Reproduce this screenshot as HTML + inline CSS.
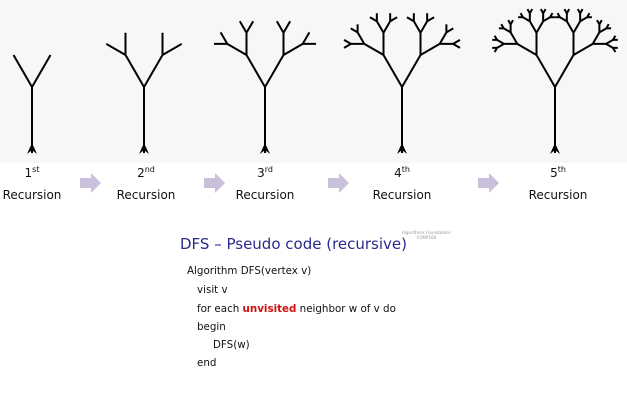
<!DOCTYPE html>
<html><head><meta charset="utf-8"><style>
body{margin:0;width:627px;height:401px;background:#fff;overflow:hidden;position:relative;font-family:"DejaVu Sans","Liberation Sans",sans-serif}
.t{position:absolute;white-space:nowrap}
.lab{position:absolute;width:80px;text-align:center;font-size:12px;color:#111;line-height:22px}
sup{font-size:8px;vertical-align:5px}
.code{position:absolute;font-size:10.3px;color:#111;white-space:nowrap}
</style></head><body>
<svg id="s" width="627" height="401" style="position:absolute;left:0;top:0">
<rect x="0" y="0" width="627" height="163" fill="#f7f7f7"/>
<g id="g" stroke="#000" stroke-width="2" fill="none" stroke-linecap="butt"></g>
<g fill="#c9c0dc">
<polygon points="80,178 91,178 91,173 101,183 91,193 91,188 80,188"/>
<polygon points="204,178 215,178 215,173 225,183 215,193 215,188 204,188"/>
<polygon points="328,178 339,178 339,173 349,183 339,193 339,188 328,188"/>
<polygon points="478,178 489,178 489,173 499,183 489,193 489,188 478,188"/>
</g>
</svg>
<script>
var g=document.getElementById('g'),s='',ah='';
function br(x,y,a,l,d){if(d==0)return;var r=a*Math.PI/180,x2=x+l*Math.sin(r),y2=y-l*Math.cos(r);
s+='<line x1="'+x+'" y1="'+y+'" x2="'+x2+'" y2="'+y2+'"/>';br(x2,y2,a-30,l*0.6,d-1);br(x2,y2,a+30,l*0.6,d-1);}
[[32,1],[144,2],[265,3],[402,4],[555,5]].forEach(function(t){var x=t[0];
s+='<line x1="'+x+'" y1="153" x2="'+x+'" y2="87"/>';br(x,87,-30,37,t[1]);br(x,87,30,37,t[1]);
ah+='<polygon points="'+x+',143 '+(x+5)+',154 '+x+',150 '+(x-5)+',154" fill="#000" stroke="none"/>';});
g.innerHTML=s+ah;
</script>
<div class="lab" style="left:-8px;top:159px">1<sup>st</sup><br>Recursion</div>
<div class="lab" style="left:106px;top:159px">2<sup>nd</sup><br>Recursion</div>
<div class="lab" style="left:225px;top:159px">3<sup>rd</sup><br>Recursion</div>
<div class="lab" style="left:362px;top:159px">4<sup>th</sup><br>Recursion</div>
<div class="lab" style="left:518px;top:159px">5<sup>th</sup><br>Recursion</div>
<div class="t" style="left:180px;top:235px;font-size:15px;color:#2a2a8c">DFS – Pseudo code (recursive)</div>
<div class="t" style="left:402px;top:230px;font-size:4px;color:#999;text-align:center;line-height:5px">Algorithmic Foundations<br>COMP108</div>
<div class="code" style="left:187px;top:265px">Algorithm DFS(vertex v)</div>
<div class="code" style="left:197px;top:284px">visit v</div>
<div class="code" style="left:197px;top:303px">for each <span style="color:#d01010;font-weight:bold">unvisited</span> neighbor w of v do</div>
<div class="code" style="left:197px;top:321px">begin</div>
<div class="code" style="left:213px;top:339px">DFS(w)</div>
<div class="code" style="left:197px;top:357px">end</div>
</body></html>
